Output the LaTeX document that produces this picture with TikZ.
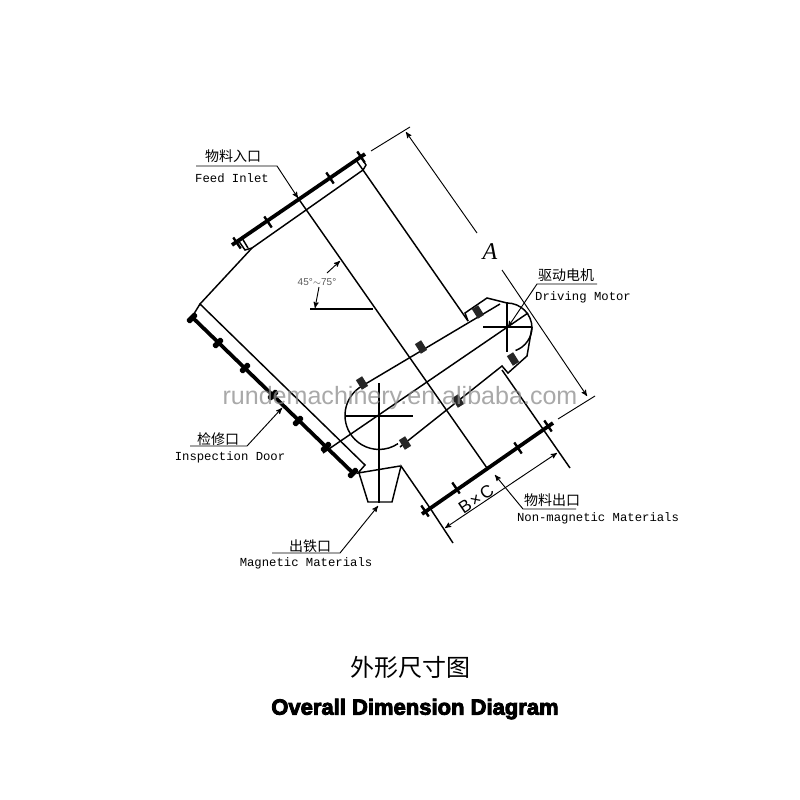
\documentclass[tikz,border=0pt]{standalone}
\usepackage{amsmath,amssymb}
\usepackage{fontspec}
\setmainfont{Liberation Serif}
\setmonofont{Liberation Mono}
\newfontfamily\cjk{Noto Sans CJK SC}
\newfontfamily\wmfont{Liberation Sans}
\newfontfamily\titlefont[FakeBold=4]{Liberation Sans Bold}
\usetikzlibrary{arrows,positioning}
\tikzset{%
	outline/.style={draw=black, line width=1.1pt},
	plate/.style={draw=black, line width=2.8pt},
	thin dim/.style={draw=black, line width=0.7pt},
	pt/.style={draw=black, line width=0.7pt,->,>=stealth'},
	cnlabel/.style={inner sep=0pt, font=\cjk\fontsize{10.5}{12}\selectfont},
	enlabel/.style={inner sep=0pt, font=\ttfamily\fontsize{9.2}{11}\selectfont},
	platebolt/.style={rectangle, fill=black, inner sep=0pt, minimum width=1.8pt, minimum height=10pt, rotate=34},
	doorbolt/.style={rectangle, fill=black, rounded corners=1pt, inner sep=0pt, minimum width=4pt, minimum height=9pt, rotate=-45},
	beltbolt/.style={rectangle, fill=black!85, inner sep=0pt, minimum width=5.5pt, minimum height=8.5pt, rotate=32}
}
\begin{document}
\begin{tikzpicture}[x=0.75pt,y=-0.75pt]
	\useasboundingbox (0,0) rectangle (800,800);

	% feed flange
	\coordinate (inletL) at (232,245);
	\coordinate (inletR) at (365,154);
	\draw[plate] (inletL) -- (inletR);
	\draw[outline] (252,248) -- (363,170);
	\draw[outline] (238,240) -- (245,250) -- (252,248);
	\draw[outline] (242,238) -- (248,248);
	\draw[outline] (356,160) -- (363,170) -- (366,165) -- (361,157);
	\node[platebolt] (ib1) at (268,222) {};
	\node[platebolt] (ib2) at (330,178) {};
	\node[platebolt] (ib3) at (237,243) {};
	\node[platebolt] (ib4) at (361,157) {};

	% body
	\draw[outline] (252,248) -- (200,304) -- (365,465) -- (358,473) -- (400,466);
	\draw[outline] (363,170) -- (468,321);
	\draw[outline] (298,198) -- (487,468);
	\draw[outline] (310,309) -- (373,309);
	\draw[outline] (200,304) -- (192,317);

	% inspection door
	\draw[plate] (192,317) -- (353,473);
	\node[doorbolt] (db1) at (192,318) {};
	\node[doorbolt] (db2) at (218,343) {};
	\node[doorbolt] (db3) at (245,368) {};
	\node[doorbolt] (db4) at (273,395) {};
	\node[doorbolt] (db5) at (298,421) {};
	\node[doorbolt] (db6) at (326,447) {};
	\node[doorbolt] (db7) at (353,473) {};

	% magnetic outlet
	\draw[outline] (359,473) -- (368,502) -- (392,502) -- (401,466) -- (430,508);

	% non-magnetic outlet
	\draw[plate] (422,514) -- (553,423);
	\node[platebolt] (ob1) at (425,511) {};
	\node[platebolt] (ob2) at (456,488) {};
	\node[platebolt] (ob3) at (518,448) {};
	\node[platebolt] (ob4) at (548,426) {};
	\draw[outline] (502,370) -- (570,468);
	\draw[outline] (430,508) -- (453,543);

	% belt housing
	\draw[outline] (362,386) -- (500,304);
	\draw[outline] (323,453) -- (528,313);
	\draw[outline] (362,386) arc (240:56:34);
	\draw[outline] (400,447) -- (502,366) -- (508,373) -- (527,356) -- (532,327);
	\draw[outline] (468,321) -- (465,313) -- (487,298) -- (507,303);
	\draw[outline] (532,327) arc (0:70:25);
	\draw[outline] (507,303) arc (-90:0:25);

	% centre lines
	\draw[outline] (379,383) -- (379,503);
	\draw[outline] (345,416) -- (413,416);
	\draw[outline] (507,302) -- (507,352);
	\draw[outline] (483,327) -- (532,327);

	\node[beltbolt] (bb1) at (362,383) {};
	\node[beltbolt] (bb2) at (421,347) {};
	\node[beltbolt] (bb3) at (478,312) {};
	\node[beltbolt] (bb4) at (405,443) {};
	\node[beltbolt] (bb5) at (458,401) {};
	\node[beltbolt] (bb6) at (513,359) {};

	% dimension A
	\draw[thin dim] (371,151) -- (410,127);
	\draw[thin dim] (558,419) -- (595,396);
	\coordinate (dimAup) at (477,233);
	\coordinate (dimAlow) at (502,270);
	\draw[pt] (dimAup) -- (406,132);
	\draw[pt] (dimAlow) -- (587,396);
	\node[inner sep=0pt, font=\itshape\fontsize{18}{20}\selectfont] (dimA) at (490,252) {A};

	% dimension BxC
	\draw[pt, <->] (445,528) -- (557,453);
	\node[inner sep=0pt, rotate=34, font=\wmfont\fontsize{13}{15}\selectfont] (dimBC) at (476,499) {B\hspace{1.5pt}×\hspace{1.5pt}C};

	% angle
	\node[inner sep=0pt, text=black!65, font=\wmfont\fontsize{7.5}{9}\selectfont] (angle) at (317,282) {45°$\sim$75°};
	\draw[pt] (319,287) -- (315,308);
	\draw[pt] (327,273) -- (340,261);

	% labels
	\node[cnlabel] (inletcn) at (233,156) {物料入口};
	\node[enlabel] (inleten) at (232,178) {Feed Inlet};
	\node[cnlabel] (doorcn) at (218,439) {检修口};
	\node[enlabel] (dooren) at (230,457) {Inspection Door};
	\node[cnlabel] (magcn) at (310,546) {出铁口};
	\node[enlabel] (magen) at (306,563) {Magnetic Materials};
	\node[cnlabel] (motorcn) at (566,275) {驱动电机};
	\node[enlabel] (motoren) at (583,297) {Driving Motor};
	\node[cnlabel] (nonmagcn) at (552,500) {物料出口};
	\node[enlabel] (nonmagen) at (598,518) {Non-magnetic Materials};

	\coordinate (inletend) at (298,198);
	\coordinate (doorend) at (282,408);
	\coordinate (magend) at (378,506);
	\coordinate (motorend) at (508,327);
	\coordinate (nonmagend) at (495,475);
	\draw[pt] (196,166) -- (277,166) -- (inletend);
	\draw[pt] (190,446) -- (247,446) -- (doorend);
	\draw[pt] (272,553) -- (340,553) -- (magend);
	\draw[pt] (597,284) -- (537,284) -- (motorend);
	\draw[pt] (576,509) -- (523,509) -- (nonmagend);

	% watermark
	\node[inner sep=0pt, text=black!45, opacity=0.75, font=\wmfont\fontsize{18.8}{22}\selectfont] (mark) at (400,398) {rundemachinery.en.alibaba.com};

	% titles
	\node[inner sep=0pt, font=\cjk\fontsize{18}{22}\selectfont] (titlecn) at (410,667) {外形尺寸图};
	\node[inner sep=0pt, font=\titlefont\fontsize{16.5}{20}\selectfont] (titleen) at (415,709) {Overall Dimension Diagram};
\end{tikzpicture}
\end{document}
